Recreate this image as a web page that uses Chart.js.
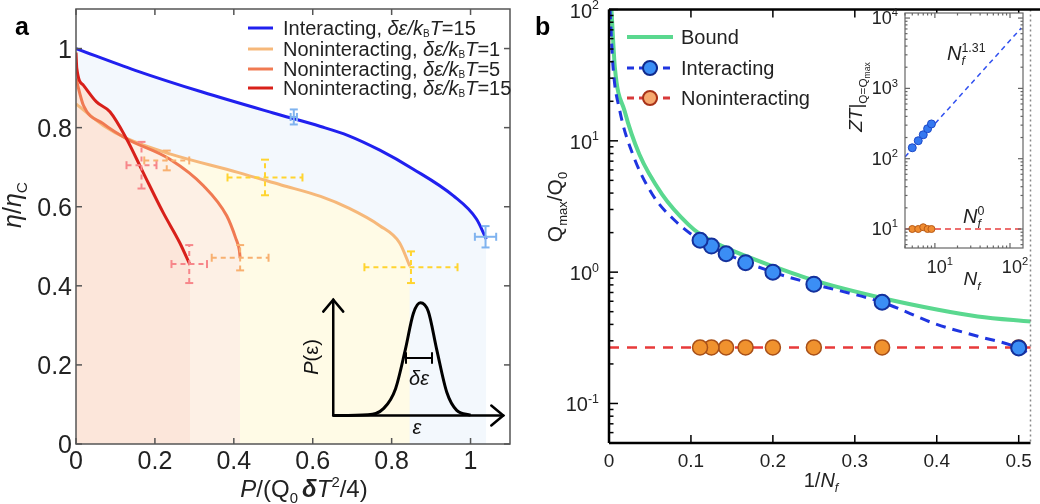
<!DOCTYPE html>
<html>
<head>
<meta charset="utf-8">
<script src="https://cdn.jsdelivr.net/npm/chart.js@4.4.0/dist/chart.umd.min.js"></script>
<style>
  body { margin: 0; background: #fff; }
  #wrap { position: relative; width: 1040px; height: 504px; overflow: hidden; }
  canvas { position: absolute; top: 0; }
</style>
</head>
<body>
<div id="wrap">
  <canvas id="chartA" width="520" height="504" style="left:0"></canvas>
  <canvas id="chartB" width="520" height="504" style="left:520px"></canvas>
  <canvas id="chartC" width="200" height="290" style="left:840px"></canvas>
</div>
<script>
const FONT = '"Liberation Sans", Arial, Helvetica, sans-serif';

// ---- panel a: efficiency vs power ----
const blueX = [0, 0.15, 0.32, 0.5, 0.62, 0.69, 0.77, 0.855, 0.956, 1.015, 1.04];
const blueY = [1.0, 0.945, 0.89, 0.837, 0.803, 0.78, 0.743, 0.695, 0.628, 0.569, 0.518];
const de1X = [0, 0.07, 0.13, 0.24, 0.41, 0.52, 0.62, 0.69, 0.77, 0.82, 0.846];
const de1Y = [0.86, 0.805, 0.772, 0.733, 0.687, 0.655, 0.626, 0.597, 0.552, 0.509, 0.45];
const de5X = [0, 0.019, 0.069, 0.128, 0.238, 0.323, 0.382, 0.405, 0.414, 0.416];
const de5Y = [0.924, 0.856, 0.81, 0.772, 0.72, 0.653, 0.577, 0.52, 0.49, 0.471];
const de15X = [0, 0.002, 0.019, 0.052, 0.086, 0.128, 0.17, 0.221, 0.263, 0.289];
const de15Y = [0.99, 0.95, 0.907, 0.865, 0.84, 0.772, 0.687, 0.585, 0.509, 0.453];

// error bars (centre, half widths)
const errX = [0.552, 1.038, 0.479, 0.849, 0.23, 0.416, 0.166, 0.287];
const errY = [0.827, 0.524, 0.674, 0.447, 0.717, 0.471, 0.705, 0.455];
const errDx = [0.008, 0.027, 0.095, 0.118, 0.057, 0.072, 0.038, 0.045];
const errDy = [0.019, 0.027, 0.045, 0.04, 0.025, 0.032, 0.059, 0.048];
const errColor = ['#7fb3ef', '#7fb3ef', '#ffd430', '#ffd430', '#f8b070', '#f8b070', '#f7868a', '#f7868a'];

// schematic P(eps) sketch
const sketchX = [0.652, 0.74, 0.78, 0.81, 0.835, 0.855, 0.873, 0.893, 0.914, 0.94, 0.965, 1.0];
const sketchY = [0.072, 0.074, 0.09, 0.14, 0.24, 0.33, 0.357, 0.335, 0.24, 0.13, 0.085, 0.073];
const sketchAxisX = [0.652, 1.083];
const sketchAxisY = [0.072, 0.365];

const aTicks = [0, 0.2, 0.4, 0.6, 0.8, 1];
const aTickLabels = ['0', '0.2', '0.4', '0.6', '0.8', '1'];

// ---- panel b: max cooling power vs 1/Nf ----
const invNf = [0.5, 0.3333, 0.25, 0.2, 0.1667, 0.1429, 0.125, 0.1111];
const qmaxInteracting = [0.265, 0.59, 0.81, 1.0, 1.18, 1.38, 1.58, 1.75];
const qmaxNoninteracting = [0.267, 0.267, 0.267, 0.267, 0.267, 0.267, 0.267, 0.267];
const boundX = [0.003, 0.0072, 0.019, 0.037, 0.065, 0.097, 0.111, 0.143, 0.2, 0.25, 0.333, 0.4, 0.45, 0.515];
const boundY = [100, 36, 16.9, 7.9, 3.9, 2.3, 1.95, 1.53, 1.11, 0.865, 0.636, 0.52, 0.46, 0.42];
const interCurveX = [0.0012, 0.005, 0.0132, 0.029, 0.053, 0.081, 0.111, 0.143, 0.2, 0.25, 0.333, 0.4, 0.45, 0.5, 0.515];
const interCurveY = [100, 36, 16.9, 7.9, 3.9, 2.45, 1.75, 1.38, 1.0, 0.81, 0.59, 0.40, 0.325, 0.265, 0.235];
const noninterCurveX = [0, 0.515];
const noninterCurveY = [0.267, 0.267];
const bXTicks = [0, 0.1, 0.2, 0.3, 0.4, 0.5];
const bXTickLabels = ['0', '0.1', '0.2', '0.3', '0.4', '0.5'];
const bYDecades = [0.1, 1, 10, 100];
const bYExponents = ['-1', '0', '1', '2'];

// ---- inset: ZT vs Nf ----
const insetNf = [5, 6, 7, 8, 9];
const insetZtInteracting = [143, 180, 219, 267, 312];
const insetZtNoninteracting = [10, 10, 10.6, 10, 10];
const insetFitInterX = [4, 141];
const insetFitInterY = [106, 7200];
const insetFitNonX = [4, 149];
const insetFitNonY = [10, 10];
const cXDecades = [10, 100];
const cXExponents = ['1', '2'];
const cYDecades = [10, 100, 1000, 10000];
const cYExponents = ['1', '2', '3', '4'];

const pts = (xs, ys) => xs.map((x, i) => ({ x: x, y: ys[i] }));

function fontFor(f, size) {
  let s = size;
  if (f.includes('_') || f.includes('^')) s = size * 0.62;
  if (f.includes('s')) s = size * 0.5;
  if (f.includes('t')) s = size * 0.45;
  return (f.includes('i') ? 'italic ' : '') + (f.includes('b') ? 'bold ' : '') + s.toFixed(1) + 'px ' + FONT;
}
function shiftFor(f, size) {
  if (f.includes('t')) return size * 0.4;
  if (f.includes('s')) return size * 0.12;
  if (f.includes('_')) return size * 0.25;
  if (f.includes('^')) return -size * 0.42;
  return 0;
}
// parts: [text, flags]  i=italic b=bold _=sub ^=sup s=small sub t=sub-sub k=no advance
function drawRich(ctx, parts, x, y, size, align, color) {
  ctx.save();
  ctx.textAlign = 'left';
  ctx.textBaseline = 'alphabetic';
  ctx.fillStyle = color || '#222';
  let w = 0;
  parts.forEach(([t, f]) => { ctx.font = fontFor(f, size); if (!f.includes('k')) w += ctx.measureText(t).width; });
  let cx = align === 'center' ? x - w / 2 : align === 'right' ? x - w : x;
  parts.forEach(([t, f]) => {
    ctx.font = fontFor(f, size);
    ctx.fillText(t, cx, y + shiftFor(f, size));
    if (!f.includes('k')) cx += ctx.measureText(t).width;
  });
  ctx.restore();
}
function line(ctx, x0, y0, x1, y1) {
  ctx.beginPath(); ctx.moveTo(x0, y0); ctx.lineTo(x1, y1); ctx.stroke();
}
function hiddenAxis(type, min, max, fit) {
  return {
    type: type, min: min, max: max,
    grid: { display: false }, border: { display: false }, ticks: { display: false },
    afterFit: fit
  };
}

// ================= panel a =================
const decorA = {
  id: 'decorA',
  afterDatasetsDraw(chart) {
    const ctx = chart.ctx, xs = chart.scales.x, ys = chart.scales.y;
    ctx.save();
    ctx.lineWidth = 2;
    errX.forEach((cx, i) => {
      const px = xs.getPixelForValue(cx), py = ys.getPixelForValue(errY[i]);
      const x0 = xs.getPixelForValue(cx - errDx[i]), x1 = xs.getPixelForValue(cx + errDx[i]);
      const y0 = ys.getPixelForValue(errY[i] - errDy[i]), y1 = ys.getPixelForValue(errY[i] + errDy[i]);
      ctx.strokeStyle = errColor[i];
      ctx.setLineDash(i < 2 ? [] : [5, 4]);
      line(ctx, x0, py, x1, py);
      line(ctx, px, y0, px, y1);
      ctx.setLineDash([]);
      line(ctx, x0, py - 4, x0, py + 4);
      line(ctx, x1, py - 4, x1, py + 4);
      line(ctx, px - 4, y0, px + 4, y0);
      line(ctx, px - 4, y1, px + 4, y1);
    });
    ctx.restore();
  },
  afterDraw(chart) {
    const ctx = chart.ctx, a = chart.chartArea, xs = chart.scales.x, ys = chart.scales.y;
    ctx.save();
    // frame and inward ticks
    ctx.strokeStyle = '#555';
    ctx.lineWidth = 1.5;
    ctx.strokeRect(a.left, a.top, a.right - a.left, a.bottom - a.top);
    aTicks.forEach((v, i) => {
      const px = xs.getPixelForValue(v), py = ys.getPixelForValue(v);
      line(ctx, px, a.bottom, px, a.bottom - 6);
      line(ctx, px, a.top, px, a.top + 6);
      line(ctx, a.left, py, a.left + 6, py);
      line(ctx, a.right, py, a.right - 6, py);
      drawRich(ctx, [[aTickLabels[i], '']], px, 469, 25, 'center');
      drawRich(ctx, [[aTickLabels[i], '']], a.left - 4, py + 9, 25, 'right');
    });
    // axis titles
    drawRich(ctx, [['P', 'i'], ['/(Q', ''], ['0 ', '_'], ['δ', 'bi'], ['T', 'i'], ['2', '^'], ['/4)', '']], 304, 497, 24, 'center');
    ctx.save();
    ctx.translate(21, 205);
    ctx.rotate(-Math.PI / 2);
    drawRich(ctx, [['η', 'i'], ['/', ''], ['η', 'i'], ['C', '_']], 0, 0, 25, 'center');
    ctx.restore();
    // panel letter
    drawRich(ctx, [['a', 'b']], 15, 35, 25, 'left', '#000');
    // legend
    const rows = [
      { c: '#2020ef', t: 'Interacting, ', v: '=15' },
      { c: '#f6b87a', t: 'Noninteracting, ', v: '=1' },
      { c: '#f07a52', t: 'Noninteracting, ', v: '=5' },
      { c: '#d8201a', t: 'Noninteracting, ', v: '=15' }
    ];
    const rowY = [28, 49, 69, 88];
    rows.forEach((r, i) => {
      ctx.strokeStyle = r.c;
      ctx.lineWidth = 3;
      line(ctx, 248, rowY[i], 273, rowY[i]);
      drawRich(ctx, [[r.t, ''], ['δε/k', 'i'], ['B', 's'], ['T', 'i'], [r.v, '']], 283, rowY[i] + 7, 20, 'left');
    });
    // sketch axes with open arrow heads
    const ox = xs.getPixelForValue(sketchAxisX[0]), oy = ys.getPixelForValue(sketchAxisY[0]);
    const ex = xs.getPixelForValue(sketchAxisX[1]), ey = ys.getPixelForValue(sketchAxisY[1]);
    ctx.strokeStyle = '#000';
    ctx.lineWidth = 2.5;
    ctx.lineCap = 'round';
    line(ctx, ox, oy, ex, oy);
    line(ctx, ox, oy, ox, ey);
    ctx.beginPath(); ctx.moveTo(ex - 12, oy - 10); ctx.lineTo(ex, oy); ctx.lineTo(ex - 12, oy + 10); ctx.stroke();
    ctx.beginPath(); ctx.moveTo(ox - 10, ey + 12); ctx.lineTo(ox, ey); ctx.lineTo(ox + 10, ey + 12); ctx.stroke();
    // width marker
    ctx.lineWidth = 2;
    line(ctx, 406, 358, 432, 358);
    line(ctx, 406, 353, 406, 363);
    line(ctx, 432, 353, 432, 363);
    drawRich(ctx, [['δε', 'i']], 419, 385, 20, 'center', '#111');
    drawRich(ctx, [['ε', 'i']], 417, 434, 20, 'center', '#111');
    ctx.save();
    ctx.translate(318, 357);
    ctx.rotate(-Math.PI / 2);
    drawRich(ctx, [['P', 'i'], ['(ε)', '']], 0, 0, 20, 'center', '#111');
    ctx.restore();
    ctx.restore();
  }
};

new Chart(document.getElementById('chartA'), {
  type: 'line',
  data: {
    datasets: [
      { data: pts(sketchX, sketchY), borderColor: '#000', borderWidth: 3, fill: false, cubicInterpolationMode: 'monotone' },
      { data: pts(de15X, de15Y), borderColor: '#d8201a', backgroundColor: '#fce6da', borderWidth: 3, fill: 'origin', cubicInterpolationMode: 'monotone' },
      { data: pts(de5X, de5Y), borderColor: '#f07a52', backgroundColor: '#fdf0e5', borderWidth: 3, fill: 'origin', cubicInterpolationMode: 'monotone' },
      { data: pts(de1X, de1Y), borderColor: '#f6b87a', backgroundColor: '#fffbe6', borderWidth: 3, fill: 'origin', cubicInterpolationMode: 'monotone' },
      { data: pts(blueX, blueY), borderColor: '#2020ef', backgroundColor: '#f3f8fd', borderWidth: 3, fill: 'origin', cubicInterpolationMode: 'monotone' }
    ]
  },
  options: {
    responsive: false,
    animation: false,
    layout: { padding: { top: 9, right: 10, left: 0, bottom: 0 } },
    elements: { point: { radius: 0 } },
    plugins: { legend: { display: false }, tooltip: { enabled: false }, filler: { drawTime: 'beforeDatasetsDraw' } },
    scales: {
      x: hiddenAxis('linear', 0, 1.1, s => { s.height = 60; }),
      y: hiddenAxis('linear', 0, 1.1, s => { s.width = 76; })
    }
  },
  plugins: [decorA]
});

// ================= panel b =================
const decorB = {
  id: 'decorB',
  afterDraw(chart) {
    const ctx = chart.ctx, a = chart.chartArea, xs = chart.scales.x, ys = chart.scales.y;
    ctx.save();
    // right edge dotted
    ctx.strokeStyle = '#888';
    ctx.lineWidth = 1.5;
    ctx.setLineDash([2, 3]);
    line(ctx, a.right, a.top, a.right, a.bottom);
    ctx.setLineDash([]);
    ctx.strokeStyle = '#000';
    ctx.lineWidth = 2.5;
    line(ctx, a.left, a.top, 520, a.top);
    line(ctx, a.left, a.top, a.left, a.bottom);
    line(ctx, a.left, a.bottom, a.right, a.bottom);
    ctx.lineWidth = 1.5;
    bXTicks.forEach((v, i) => {
      const px = xs.getPixelForValue(v);
      line(ctx, px, a.bottom, px, a.bottom - 8);
      line(ctx, px, a.top, px, a.top + 8);
      drawRich(ctx, [[bXTickLabels[i], '']], px, 467, 19, 'center');
    });
    bYDecades.forEach((v, i) => {
      const py = ys.getPixelForValue(v);
      line(ctx, a.left, py, a.left + 9, py);
      drawRich(ctx, [['10', ''], [bYExponents[i], '^']], a.left - 10, py + 8, 20, 'right');
      for (let m = 2; m <= 9; m++) {
        const mv = v * m;
        if (mv > ys.max) break;
        const my = ys.getPixelForValue(mv);
        line(ctx, a.left, my, a.left + 4.5, my);
      }
    });
    [0.05, 0.06, 0.07, 0.08, 0.09].forEach(v => {
      const my = ys.getPixelForValue(v);
      line(ctx, a.left, my, a.left + 4.5, my);
    });
    // titles
    drawRich(ctx, [['1/', ''], ['N', 'i'], ['f', 'i_']], 301, 487, 20, 'center');
    ctx.save();
    ctx.translate(42, 207);
    ctx.rotate(-Math.PI / 2);
    drawRich(ctx, [['Q', ''], ['max', '_'], ['/Q', ''], ['0', '_']], 0, 0, 21, 'center');
    ctx.restore();
    drawRich(ctx, [['b', 'b']], 15, 35, 25, 'left', '#000');
    // legend
    const ly = [37, 68, 98];
    ctx.strokeStyle = '#5ad88f';
    ctx.lineWidth = 4;
    line(ctx, 107, ly[0], 153, ly[0]);
    ctx.lineWidth = 3;
    ctx.setLineDash([7, 5]);
    ctx.strokeStyle = '#1f35e0';
    line(ctx, 107, ly[1], 153, ly[1]);
    ctx.strokeStyle = '#d83a3a';
    line(ctx, 107, ly[2], 153, ly[2]);
    ctx.setLineDash([]);
    [[ly[1], '#3b8ef5', '#102a8c'], [ly[2], '#f6a86e', '#a83218']].forEach(([y, f, b]) => {
      ctx.beginPath();
      ctx.arc(130, y, 7, 0, Math.PI * 2);
      ctx.fillStyle = f; ctx.fill();
      ctx.lineWidth = 2; ctx.strokeStyle = b; ctx.stroke();
    });
    drawRich(ctx, [['Bound', '']], 161, ly[0] + 7, 20, 'left');
    drawRich(ctx, [['Interacting', '']], 161, ly[1] + 7, 20, 'left');
    drawRich(ctx, [['Noninteracting', '']], 161, ly[2] + 7, 20, 'left');
    ctx.restore();
  }
};

new Chart(document.getElementById('chartB'), {
  type: 'line',
  data: {
    datasets: [
      { data: pts(invNf, qmaxInteracting), showLine: false, pointRadius: 7.5, pointBackgroundColor: '#3b8ef5', pointBorderColor: '#14319c', pointBorderWidth: 2 },
      { data: pts(invNf, qmaxNoninteracting), showLine: false, pointRadius: 7.5, pointBackgroundColor: '#f0922e', pointBorderColor: '#a85018', pointBorderWidth: 1.5 },
      { data: pts(interCurveX, interCurveY), borderColor: '#1f35e0', borderWidth: 3, borderDash: [10, 7], pointRadius: 0, cubicInterpolationMode: 'monotone' },
      { data: pts(noninterCurveX, noninterCurveY), borderColor: '#e83a3a', borderWidth: 2.5, borderDash: [10, 8], pointRadius: 0 },
      { data: pts(boundX, boundY), borderColor: '#5ad88f', borderWidth: 4, pointRadius: 0, cubicInterpolationMode: 'monotone' }
    ]
  },
  options: {
    responsive: false,
    animation: false,
    layout: { padding: { top: 9, right: 2, left: 0, bottom: 0 } },
    plugins: { legend: { display: false }, tooltip: { enabled: false } },
    scales: {
      x: hiddenAxis('linear', 0, 0.5144, s => { s.height = 61; }),
      y: hiddenAxis('logarithmic', 0.05, 100, s => { s.width = 89; })
    }
  },
  plugins: [decorB]
});

// ================= inset =================
const decorC = {
  id: 'decorC',
  beforeDatasetsDraw(chart) {
    const ctx = chart.ctx, a = chart.chartArea;
    ctx.save();
    ctx.fillStyle = '#fff';
    ctx.fillRect(a.left, a.top, a.right - a.left, a.bottom - a.top);
    ctx.restore();
  },
  afterDraw(chart) {
    const ctx = chart.ctx, a = chart.chartArea, xs = chart.scales.x, ys = chart.scales.y;
    ctx.save();
    ctx.strokeStyle = '#666';
    ctx.lineWidth = 1.2;
    ctx.strokeRect(a.left, a.top, a.right - a.left, a.bottom - a.top);
    cXDecades.forEach((v, i) => {
      const px = xs.getPixelForValue(v);
      line(ctx, px, a.bottom, px, a.bottom - 5);
      line(ctx, px, a.top, px, a.top + 5);
      drawRich(ctx, [['10', ''], [cXExponents[i], '^']], px + 5, 273, 18, 'center');
    });
    [1, 10].forEach(d => {
      for (let m = 2; m <= 9; m++) {
        const v = d * m;
        if (v < xs.min || v > xs.max) continue;
        const px = xs.getPixelForValue(v);
        line(ctx, px, a.bottom, px, a.bottom - 2.5);
        line(ctx, px, a.top, px, a.top + 2.5);
      }
    });
    cYDecades.forEach((v, i) => {
      const py = ys.getPixelForValue(v);
      line(ctx, a.left, py, a.left + 5, py);
      line(ctx, a.right, py, a.right - 5, py);
      drawRich(ctx, [['10', ''], [cYExponents[i], '^']], a.left - 7, py + 6, 18, 'right');
    });
    [1, 10, 100, 1000].forEach(d => {
      for (let m = 2; m <= 9; m++) {
        const v = d * m;
        if (v < ys.min || v > ys.max) continue;
        const py = ys.getPixelForValue(v);
        line(ctx, a.left, py, a.left + 2.5, py);
        line(ctx, a.right, py, a.right - 2.5, py);
      }
    });
    drawRich(ctx, [['N', 'i'], ['f', 'i_']], 132, 285, 19, 'center');
    drawRich(ctx, [['N', 'i'], ['f', 'i_k'], ['1.31', '^']], 107, 60, 20, 'left');
    drawRich(ctx, [['N', 'i'], ['f', 'i_k'], ['0', '^']], 123, 223, 20, 'left');
    ctx.save();
    ctx.translate(22, 97);
    ctx.rotate(-Math.PI / 2);
    drawRich(ctx, [['ZT', 'i'], ['|', ''], ['Q=Q', '_'], ['max', 't']], 0, 0, 19, 'center');
    ctx.restore();
    ctx.restore();
  }
};

new Chart(document.getElementById('chartC'), {
  type: 'line',
  data: {
    datasets: [
      { data: pts(insetNf, insetZtInteracting), showLine: false, pointRadius: 4, pointBackgroundColor: '#3478f0', pointBorderColor: '#1d49c8', pointBorderWidth: 1 },
      { data: pts(insetNf, insetZtNoninteracting), showLine: false, pointRadius: 3.5, pointBackgroundColor: '#f08c30', pointBorderColor: '#b85a16', pointBorderWidth: 1 },
      { data: pts(insetFitInterX, insetFitInterY), borderColor: '#3050f0', borderWidth: 1.5, borderDash: [5, 4], pointRadius: 0 },
      { data: pts(insetFitNonX, insetFitNonY), borderColor: '#e84040', borderWidth: 1.5, borderDash: [6, 4], pointRadius: 0 }
    ]
  },
  options: {
    responsive: false,
    animation: false,
    layout: { padding: { top: 13, right: 17, left: 0, bottom: 0 } },
    plugins: { legend: { display: false }, tooltip: { enabled: false } },
    scales: {
      x: hiddenAxis('logarithmic', 4, 149, s => { s.height = 42; }),
      y: hiddenAxis('logarithmic', 5.37, 11800, s => { s.width = 65; })
    }
  },
  plugins: [decorC]
});
</script>
</body>
</html>
